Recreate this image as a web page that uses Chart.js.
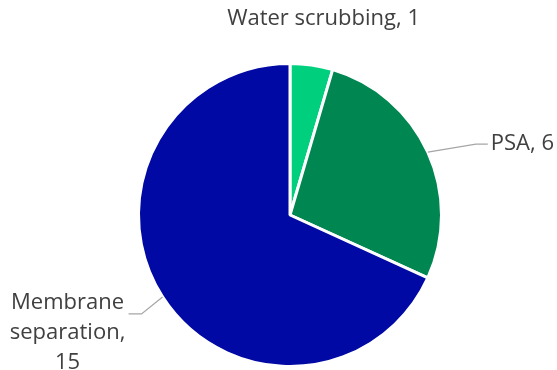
<!DOCTYPE html>
<html>
<head>
<meta charset="utf-8">
<script src="https://cdn.jsdelivr.net/npm/chart.js@4/dist/chart.umd.min.js"></script>
<style>
  html, body { margin: 0; padding: 0; background: #fff; }
  #wrap { width: 557px; height: 370px; }
</style>
</head>
<body>
<div id="wrap"><canvas id="upgradingChart"></canvas></div>
<script>
// Biogas upgrading technologies
const technologies = ["Water scrubbing", "PSA", "Membrane separation"];
const plantCounts = [1, 6, 15];
const sliceColors = ["#00cf7e", "#008751", "#0009a3"];

// label text lines (wrapped where the label sits beside the pie)
const labelLines = [
  ["Water scrubbing, 1"],
  ["PSA, 6"],
  ["Membrane", "separation,", "15"],
];

// outside labels with leader lines
const outsideLabels = {
  id: "outsideLabels",
  afterDraw(chart, args, opts) {
    const ctx = chart.ctx;
    const meta = chart.getDatasetMeta(0);
    ctx.save();
    ctx.font = "22px 'Open Sans'";
    ctx.fillStyle = "#404040";
    ctx.textBaseline = "middle";
    meta.data.forEach((arc, i) => {
      const p = arc.getProps(["x", "y", "startAngle", "endAngle", "outerRadius"], true);
      const mid = (p.startAngle + p.endAngle) / 2;
      const ex = p.x + Math.cos(mid) * p.outerRadius;
      const ey = p.y + Math.sin(mid) * p.outerRadius;
      const place = opts.placement[i];
      const lines = labelLines[i];
      if (place.leader) {
        const bx = ex + place.elbow[0];
        const by = ey + place.elbow[1];
        const tx = bx + place.tail;
        ctx.strokeStyle = "#a6a6a6";
        ctx.lineWidth = 1.3;
        ctx.beginPath();
        ctx.moveTo(ex, ey);
        ctx.lineTo(bx, by);
        ctx.lineTo(tx, by);
        ctx.stroke();
      }
      const lx = ex + place.text[0];
      const ly = ey + place.text[1];
      ctx.textAlign = place.align;
      lines.forEach((line, k) => {
        ctx.fillText(line, lx, ly + k * 30);
      });
    });
    ctx.restore();
  },
};

new Chart(document.getElementById("upgradingChart").getContext("2d"), {
  type: "pie",
  data: {
    labels: technologies,
    datasets: [
      {
        data: plantCounts,
        backgroundColor: sliceColors,
        borderColor: "#ffffff",
        borderWidth: 3,
      },
    ],
  },
  options: {
    responsive: true,
    maintainAspectRatio: false,
    animation: false,
    layout: { padding: { left: 137, right: 114, top: 62, bottom: 2 } },
    plugins: {
      legend: { display: false },
      tooltip: { enabled: false },
      outsideLabels: {
        placement: [
          { leader: false, align: "center", text: [12, -46] },
          { leader: true, align: "left", elbow: [48, -8], tail: 12, text: [63, -8] },
          { leader: true, align: "center", elbow: [-21, 17], tail: -13, text: [-95, 6] },
        ],
      },
    },
  },
  plugins: [outsideLabels],
});
</script>
</body>
</html>
